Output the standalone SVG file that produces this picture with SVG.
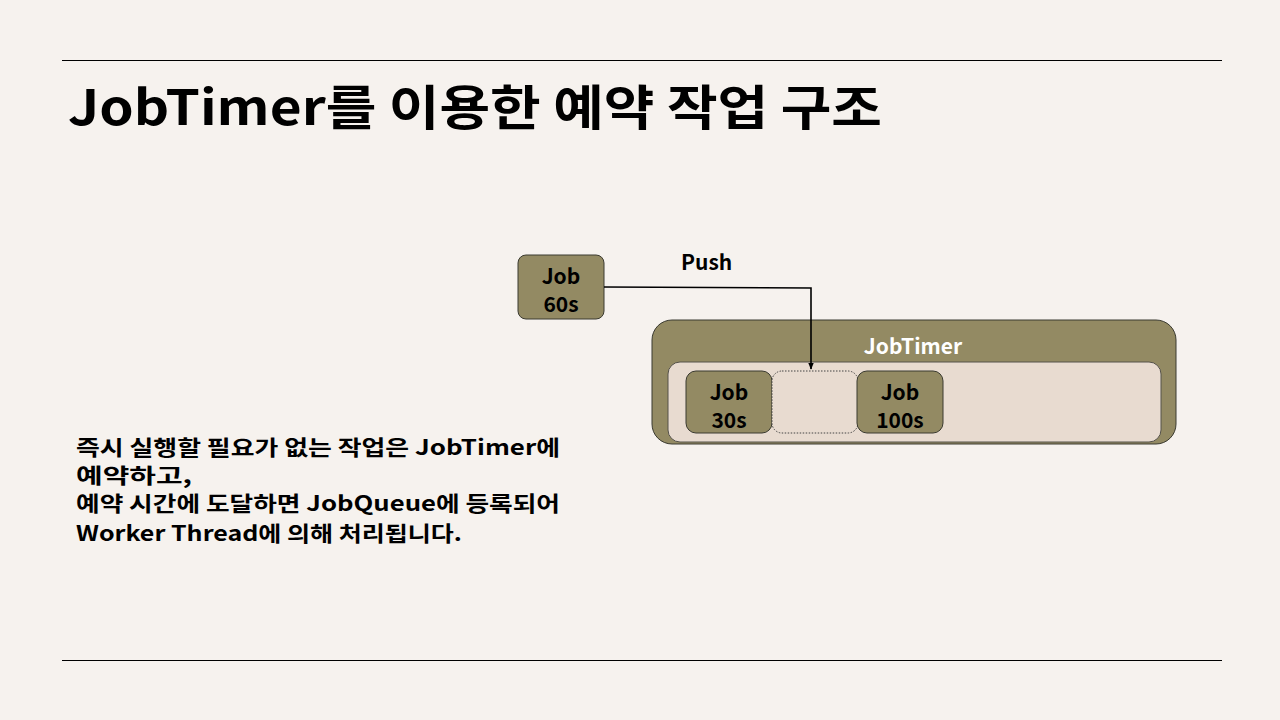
<svg xmlns="http://www.w3.org/2000/svg" width="1280" height="720" viewBox="0 0 1280 720">
<defs>
<style>
.t{font-family:"Noto Sans CJK KR","Noto Sans",sans-serif;font-weight:bold;fill:#000}
.job{fill:#938A63;stroke:#3a3a30;stroke-width:1}
.jt{font-family:"Noto Sans CJK KR","Noto Sans",sans-serif;font-weight:bold;font-size:21px;fill:#000;text-anchor:middle}
.rule{stroke:#000;stroke-width:1}
</style>
<marker id="arr" viewBox="0 0 10 10" refX="9" refY="5" markerWidth="7" markerHeight="7" orient="auto" markerUnits="userSpaceOnUse">
<path d="M0,1 L10,5 L0,9 z" fill="#000"/>
</marker>
</defs>
<rect width="1280" height="720" fill="#F6F2EE"/>
<line class="rule" x1="62" y1="60.5" x2="1222" y2="60.5"/>
<line class="rule" x1="62" y1="660.5" x2="1222" y2="660.5"/>
<text class="t" x="68" y="125" font-size="48" textLength="814" lengthAdjust="spacingAndGlyphs">JobTimer를 이용한 예약 작업 구조</text>
<g id="jobtimer">
<rect x="652" y="320" width="524" height="124" rx="20" class="job"/>
<text x="913" y="354" class="jt" style="fill:#fff">JobTimer</text>
<rect x="668" y="362" width="493" height="80" rx="12" fill="#E8DBD0" stroke="#55524a" stroke-width="1"/>
</g>
<g id="job30">
<rect x="686" y="371" width="86" height="62" rx="10" class="job"/>
<text x="729" y="400" class="jt">Job</text>
<text x="729" y="428" class="jt">30s</text>
</g>
<g id="slot">
<rect x="772" y="371" width="86" height="62" rx="10" fill="#E8DBD0" stroke="#444" stroke-width="1" stroke-dasharray="1.5,1.5"/>
</g>
<g id="job100">
<rect x="857" y="371" width="86" height="62" rx="10" class="job"/>
<text x="900" y="400" class="jt">Job</text>
<text x="900" y="428" class="jt">100s</text>
</g>
<g id="job60">
<rect x="518" y="255" width="86" height="64" rx="8" class="job"/>
<text x="561" y="284" class="jt">Job</text>
<text x="561" y="312" class="jt">60s</text>
</g>
<g id="connectors">
<polyline points="604,287 811,288 811,369" fill="none" stroke="#000" stroke-width="1.6" marker-end="url(#arr)"/>
<text x="681" y="270" class="t" font-size="21">Push</text>
</g>
<g id="body">
<text class="t" font-size="21" x="76" y="455" textLength="484" lengthAdjust="spacingAndGlyphs">즉시 실행할 필요가 없는 작업은 JobTimer에</text>
<text class="t" font-size="21" x="76" y="483" textLength="116" lengthAdjust="spacingAndGlyphs">예약하고,</text>
<text class="t" font-size="21" x="76" y="511" textLength="484" lengthAdjust="spacingAndGlyphs">예약 시간에 도달하면 JobQueue에 등록되어</text>
<text class="t" font-size="21" x="76" y="541" textLength="386" lengthAdjust="spacingAndGlyphs">Worker Thread에 의해 처리됩니다.</text>
</g>
</svg>
